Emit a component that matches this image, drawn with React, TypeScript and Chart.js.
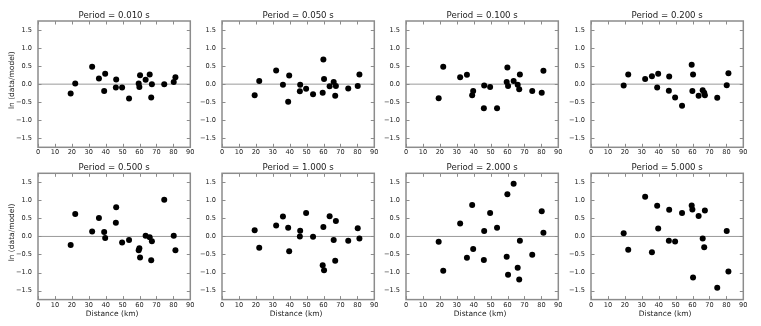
import React, { useEffect, useRef } from "react";
import { Chart, registerables } from "chart.js";
Chart.register(...registerables);

// Station distances (km), shared by all periods
const distances = [19.3, 22, 32, 36, 39.1, 39.7, 46.2, 46, 49.7, 53.8, 59.5, 59.9, 60.3, 63.6, 66, 66.9, 67.3, 74.6, 80.2, 81.2];

// ln(data/model) residuals per period
const period010 = [-0.26, 0.02, 0.48, 0.16, -0.19, 0.29, 0.13, -0.09, -0.09, -0.4, 0.02, -0.08, 0.25, 0.12, 0.27, -0.37, 0.0, 0.0, 0.06, 0.19];
const period050 = [-0.31, 0.09, 0.38, -0.02, -0.49, 0.24, -0.02, -0.2, -0.13, -0.28, -0.24, 0.68, 0.14, -0.06, 0.06, -0.32, -0.05, -0.12, -0.05, 0.27];
const period100 = [-0.39, 0.48, 0.19, 0.26, -0.31, -0.19, -0.04, -0.67, -0.08, -0.67, 0.06, 0.46, -0.05, 0.09, -0.02, -0.14, 0.27, -0.19, -0.24, 0.37];
const period200 = [-0.04, 0.27, 0.14, 0.22, -0.09, 0.29, 0.21, -0.18, -0.37, -0.6, 0.54, -0.19, 0.27, -0.32, -0.17, -0.24, -0.31, -0.38, -0.03, 0.3];
const period500 = [-0.24, 0.62, 0.14, 0.51, 0.12, -0.04, 0.81, 0.38, -0.17, -0.1, -0.38, -0.33, -0.58, 0.02, -0.02, -0.66, -0.13, 1.02, 0.02, -0.38];
const period1000 = [0.17, -0.31, 0.3, 0.55, 0.24, -0.41, 0.16, 0.0, 0.65, -0.01, -0.8, 0.26, -0.94, 0.56, -0.1, -0.67, 0.43, -0.12, 0.23, -0.06];
const period2000 = [-0.15, -0.95, 0.36, -0.59, 0.87, -0.35, 0.15, -0.65, 0.65, 0.24, -0.56, 1.17, -1.06, 1.46, -0.87, -1.19, -0.12, -0.51, 0.7, 0.1];
const period5000 = [0.09, -0.37, 1.1, -0.44, 0.85, 0.22, 0.74, -0.12, -0.14, 0.65, 0.86, 0.75, -1.14, 0.57, -0.06, -0.3, 0.72, -1.42, 0.15, -0.97];

const panelTitles = [
  "Period = 0.010 s", "Period = 0.050 s", "Period = 0.100 s", "Period = 0.200 s",
  "Period = 0.500 s", "Period = 1.000 s", "Period = 2.000 s", "Period = 5.000 s",
];
const panelValues = [period010, period050, period100, period200, period500, period1000, period2000, period5000];

const xTicks = [0, 10, 20, 30, 40, 50, 60, 70, 80, 90];
const yTicks = [-1.5, -1.0, -0.5, 0.0, 0.5, 1.0, 1.5];
const xLabel = "Distance (km)";
const yLabel = "ln (data/model)";

const FONT = "'DejaVu Sans', sans-serif";
const TEXT = "#222";
const SPINE = "#8c8c8c";

const colLeft = [0, 184, 368, 553];
const rowTop = [0, 152];
const CANVAS_W = 196;
const Y_W = 38;
const RIGHT_PAD = 4;
const PLOT_H = 126.3;

function Panel({ title, values, row, col }: { title: string; values: number[]; row: number; col: number }) {
  const ref = useRef<HTMLCanvasElement>(null);
  const h = row === 0 ? 164 : 174;
  useEffect(() => {
    const topPad = row === 0 ? 21 : 21.3;
    const xH = h - topPad - PLOT_H;
    const isLeft = col === 0;
    const isBottom = row === 1;
    const decor = {
      id: "decor",
      beforeDatasetsDraw(chart: any) {
        const { ctx, chartArea: a, scales } = chart;
        const xs = scales.x, ys = scales.y;
        ctx.save();
        // zero line
        const y0 = ys.getPixelForValue(0);
        ctx.strokeStyle = "#9a9a9a";
        ctx.lineWidth = 1;
        ctx.beginPath();
        ctx.moveTo(a.left, y0);
        ctx.lineTo(a.right, y0);
        ctx.stroke();
        // inner ticks
        ctx.strokeStyle = SPINE;
        ctx.lineWidth = 1;
        const tl = 3.5;
        ctx.beginPath();
        for (const t of xTicks) {
          const px = Math.round(xs.getPixelForValue(t)) + 0.5;
          ctx.moveTo(px, a.bottom);
          ctx.lineTo(px, a.bottom - tl);
          ctx.moveTo(px, a.top);
          ctx.lineTo(px, a.top + tl);
        }
        for (const t of yTicks) {
          const py = Math.round(ys.getPixelForValue(t)) + 0.5;
          ctx.moveTo(a.left, py);
          ctx.lineTo(a.left + tl, py);
          ctx.moveTo(a.right, py);
          ctx.lineTo(a.right - tl, py);
        }
        ctx.stroke();
        // box
        ctx.lineWidth = 1.5;
        ctx.strokeRect(a.left, a.top, a.right - a.left, a.bottom - a.top);
        ctx.restore();
      },
      afterDraw(chart: any) {
        const { ctx, chartArea: a } = chart;
        ctx.save();
        ctx.fillStyle = TEXT;
        ctx.textAlign = "center";
        ctx.textBaseline = "alphabetic";
        ctx.font = `8.6px ${FONT}`;
        ctx.fillText(title, (a.left + a.right) / 2, a.top - 3.3);
        ctx.font = `7.5px ${FONT}`;
        if (isBottom) {
          ctx.textBaseline = "middle";
          ctx.fillText(xLabel, (a.left + a.right) / 2 - 2, a.bottom + 14.7);
        }
        if (isLeft) {
          ctx.translate(12, (a.top + a.bottom) / 2 - 4);
          ctx.rotate(-Math.PI / 2);
          ctx.textBaseline = "middle";
          ctx.fillText(yLabel, 0, 0);
        }
        ctx.restore();
      },
    };
    const chart = new Chart(ref.current as HTMLCanvasElement, {
      type: "scatter",
      data: {
        datasets: [
          {
            data: distances.map((d, i) => ({ x: d, y: values[i] })),
            pointRadius: 3,
            pointHoverRadius: 3,
            pointBackgroundColor: "#000",
            pointBorderWidth: 0,
            showLine: false,
          },
        ],
      },
      options: {
        responsive: false,
        animation: false,
        devicePixelRatio: 1,
        layout: { padding: { top: topPad, right: RIGHT_PAD, left: 0, bottom: 0 } },
        plugins: { legend: { display: false }, tooltip: { enabled: false }, title: { display: false } },
        scales: {
          x: {
            type: "linear",
            min: 0,
            max: 90,
            afterBuildTicks: (s: any) => { s.ticks = xTicks.map((v) => ({ value: v })); },
            afterFit: (s: any) => { s.height = xH; },
            grid: { display: false, drawTicks: false },
            border: { display: false },
            ticks: {
              font: { family: FONT, size: 6.6 },
              color: TEXT,
              padding: 1.5,
              maxRotation: 0,
              autoSkip: false,
              callback: (v: any) => String(v),
            },
          },
          y: {
            type: "linear",
            min: -1.75,
            max: 1.75,
            afterBuildTicks: (s: any) => { s.ticks = yTicks.map((v) => ({ value: v })); },
            afterFit: (s: any) => { s.width = Y_W; },
            grid: { display: false, drawTicks: false },
            border: { display: false },
            ticks: {
              font: { family: FONT, size: 6.6 },
              color: TEXT,
              padding: 6,
              autoSkip: false,
              callback: (v: any) => (v < 0 ? "\u2212" : "") + Math.abs(v).toFixed(1),
            },
          },
        },
      },
      plugins: [decor],
    } as any);
    return () => chart.destroy();
  }, []);
  return (
    <canvas
      ref={ref}
      width={CANVAS_W}
      height={h}
      style={{ position: "fixed", left: colLeft[col], top: rowTop[row], width: CANVAS_W, height: h, display: "block" }}
    />
  );
}

export default function App() {
  return (
    <div style={{ position: "relative", width: 761, height: 326, background: "#fff" }}>
      {panelTitles.map((t, i) => (
        <Panel key={t} title={t} values={panelValues[i]} row={Math.floor(i / 4)} col={i % 4} />
      ))}
    </div>
  );
}
